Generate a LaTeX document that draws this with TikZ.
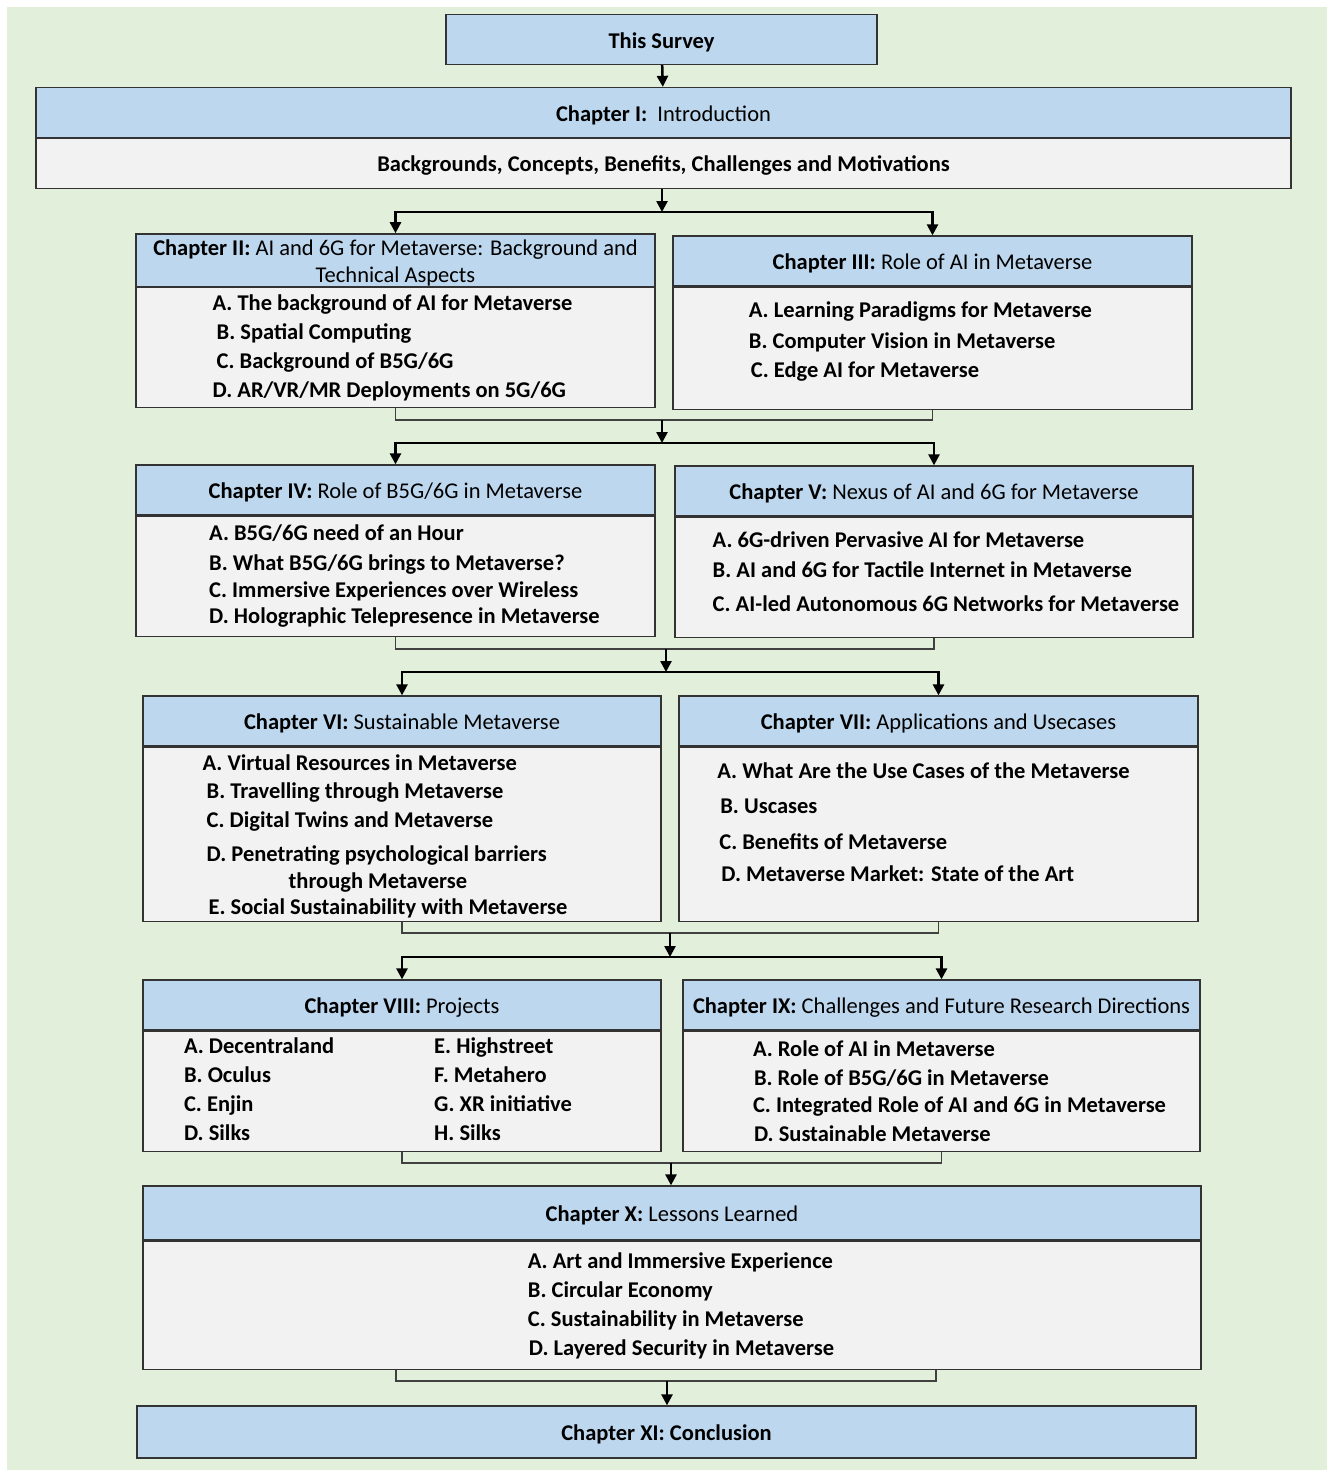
\documentclass[tikz,border=0pt]{standalone}
\usepackage{fontspec}
\setmainfont{Carlito}
\usepackage{tikz}
\usetikzlibrary{positioning,arrows.meta}

\definecolor{headblue}{RGB}{189,215,238}
\definecolor{bodygray}{RGB}{242,242,242}
\definecolor{bggreen}{RGB}{226,239,218}

\begin{document}
\begin{tikzpicture}[
        x=1pt, y=-1pt,
        head/.style={rectangle, draw=black!80, line width=1.3pt, fill=headblue, inner sep=0pt, minimum height=50pt, text height=21.3pt, text depth=4pt, align=center, font=\fontsize{22.5}{27}\selectfont},
        body/.style={rectangle, draw=black!80, line width=1.3pt, fill=bodygray, inner sep=0pt, align=center, font=\fontsize{22.5}{29}\selectfont\bfseries},
        items/.style={inner sep=0pt, align=left, font=\fontsize{22.5}{29}\selectfont\bfseries},
        arrow/.style={-{Triangle[length=11pt,width=11pt]}, line width=2.5pt},
        link/.style={draw=black!75, line width=1.4pt}
    ]

    \useasboundingbox (0,0) rectangle (1327,1470);
    \fill[bggreen] (7,7) rectangle (1327,1470);

    % Survey and introduction
    \node[head, minimum width=431pt, font=\fontsize{22.5}{27}\selectfont\bfseries] (survey) at (661.5,39.5) {This Survey};
    \node[head, minimum width=1255pt] (introhead) at (663.5,112.5) {\textbf{Chapter I:}~ Introduction};
    \node[body, minimum width=1255pt, minimum height=50pt, text height=20pt, text depth=4pt, below=0pt of introhead] (introbody) {Backgrounds, Concepts, Benefits, Challenges and Motivations};

    % Chapters II and III
    \node[head, minimum width=519pt, minimum height=52pt, text height=48.3pt] (ch2head) at (395.5,260) {\textbf{Chapter II:} AI and 6G for Metaverse: Background and\\Technical Aspects};
    \node[body, minimum width=519pt, minimum height=120pt, below=0pt of ch2head] (ch2body) {};
    \node[items] (ch2items) at ([xshift=-3pt]ch2body.center) {A. The background of AI for Metaverse\\\hspace*{4pt}B. Spatial Computing\\\hspace*{4pt}C. Background of B5G/6G\\D. AR/VR/MR Deployments on 5G/6G};

    \node[head, minimum width=519pt] (ch3head) at (932.5,261) {\textbf{Chapter III:} Role of AI in Metaverse};
    \node[body, minimum width=519pt, minimum height=122pt, below=0pt of ch3head] (ch3body) {};
    \node[items] (ch3items) at ([xshift=-12pt, yshift=7pt]ch3body.center) {A. Learning Paradigms for Metaverse\\[2pt]B. Computer Vision in Metaverse\\[0pt]\hspace*{2pt}C. Edge AI for Metaverse};

    % Chapters IV and V
    \node[head, minimum width=519pt] (ch4head) at (395.5,490) {\textbf{Chapter IV:} Role of B5G/6G in Metaverse};
    \node[body, minimum width=519pt, minimum height=120pt, below=0pt of ch4head] (ch4body) {};
    \node[items] (ch4items) at ([xshift=9pt]ch4body.center) {A. B5G/6G need of an Hour\\[1pt]B. What B5G/6G brings to Metaverse?\\[-2pt]C. Immersive Experiences over Wireless\\[-3pt]D. Holographic Telepresence in Metaverse};

    \node[head, minimum width=518pt] (ch5head) at (934,491) {\textbf{Chapter V:} Nexus of AI and 6G for Metaverse};
    \node[body, minimum width=518pt, minimum height=120pt, below=0pt of ch5head] (ch5body) {};
    \node[items] (ch5items) at ([xshift=12pt, yshift=6pt]ch5body.center) {A. 6G-driven Pervasive AI for Metaverse\\[1pt]B. AI and 6G for Tactile Internet in Metaverse\\[5pt]C. AI-led Autonomous 6G Networks for Metaverse};

    % Chapters VI and VII
    \node[head, minimum width=518pt] (ch6head) at (402,721) {\textbf{Chapter VI:} Sustainable Metaverse};
    \node[body, minimum width=518pt, minimum height=174pt, below=0pt of ch6head] (ch6body) {};
    \node[items] (ch6items) at ([xshift=-17pt, yshift=-2pt]ch6body.center) {A. Virtual Resources in Metaverse\\[-1pt]\hspace*{4pt}B. Travelling through Metaverse\\[0pt]\hspace*{4pt}C. Digital Twins and Metaverse\\[5pt]\hspace*{4pt}D. Penetrating psychological barriers\\[-2pt]\hspace*{86pt}through Metaverse\\[-3pt]\hspace*{6pt}E. Social Sustainability with Metaverse};

    \node[head, minimum width=519pt] (ch7head) at (938.5,721) {\textbf{Chapter VII:} Applications and Usecases};
    \node[body, minimum width=519pt, minimum height=174pt, below=0pt of ch7head] (ch7body) {};
    \node[items] (ch7items) at ([xshift=-15pt, yshift=12pt]ch7body.center) {A. What Are the Use Cases of the Metaverse\\[6pt]\hspace*{3pt}B. Uscases\\[7pt]\hspace*{2pt}C. Benefits of Metaverse\\[3pt]\hspace*{4pt}D. Metaverse Market: State of the Art};

    % Chapters VIII and IX
    \node[head, minimum width=518pt] (ch8head) at (402,1005) {\textbf{Chapter VIII:} Projects};
    \node[body, minimum width=518pt, minimum height=120pt, below=0pt of ch8head] (ch8body) {};
    \node[items] (ch8items) at ([xshift=-24pt]ch8body.center) {\begin{tabular}{@{}l@{\hspace{100pt}}l@{}}
        A. Decentraland & E. Highstreet\\
        B. Oculus & F. Metahero\\
        C. Enjin & G. XR initiative\\
        D. Silks & H. Silks
    \end{tabular}};

    \node[head, minimum width=517pt] (ch9head) at (941.5,1005) {\textbf{Chapter IX:} Challenges and Future Research Directions};
    \node[body, minimum width=517pt, minimum height=120pt, below=0pt of ch9head] (ch9body) {};
    \node[items] (ch9items) at ([xshift=18pt]ch9body.center) {A. Role of AI in Metaverse\\\hspace*{1pt}B. Role of B5G/6G in Metaverse\\[-2pt]C. Integrated Role of AI and 6G in Metaverse\\\hspace*{1pt}D. Sustainable Metaverse};

    % Chapters X and XI
    \node[head, minimum width=1058pt, minimum height=54pt] (ch10head) at (672,1213) {\textbf{Chapter X:} Lessons Learned};
    \node[body, minimum width=1058pt, minimum height=128pt, below=0pt of ch10head] (ch10body) {};
    \node[items] (ch10items) at ([xshift=9pt, yshift=-1pt]ch10body.center) {A. Art and Immersive Experience\\B. Circular Economy\\C. Sustainability in Metaverse\\\hspace*{1pt}D. Layered Security in Metaverse};

    \node[head, minimum width=1059pt, minimum height=52pt, font=\fontsize{22.5}{27}\selectfont\bfseries] (ch11) at (666.5,1432) {Chapter XI: Conclusion};

    % Junctions
    \coordinate (k1) at (662,212);
    \coordinate (j2) at (662,420);
    \coordinate (k2) at (662,443);
    \coordinate (j3) at (666,649);
    \coordinate (k3) at (666,672);
    \coordinate (j4) at (670,933);
    \coordinate (k4) at (670,957);
    \coordinate (j5) at (671,1163);
    \coordinate (j6) at (667,1381);

    % Connectors
    \draw[arrow] (survey) -- (introhead);
    \draw[arrow] (introbody.south -| k1) -- (k1);
    \draw[arrow] (k1) -| (ch2head.north);
    \draw[arrow] (k1) -| (ch3head.north);

    \draw[link] (ch2body.south) |- (j2) -| (ch3body.south);
    \draw[arrow] (j2) -- (k2);
    \draw[arrow] (k2) -| (ch4head.north);
    \draw[arrow] (k2) -| (ch5head.north);

    \draw[link] (ch4body.south) |- (j3) -| (ch5body.south);
    \draw[arrow] (j3) -- (k3);
    \draw[arrow] (k3) -| (ch6head.north);
    \draw[arrow] (k3) -| (ch7head.north);

    \draw[link] (ch6body.south) |- (j4) -| (ch7body.south);
    \draw[arrow] (j4) -- (k4);
    \draw[arrow] (k4) -| (ch8head.north);
    \draw[arrow] (k4) -| (ch9head.north);

    \draw[link] (ch8body.south) |- (j5) -| (ch9body.south);
    \draw[arrow] (j5) -- (j5 |- ch10head.north);

    \draw[link] ([xshift=-276pt]ch10body.south) |- (j6) -| ([xshift=264pt]ch10body.south);
    \draw[arrow] (j6) -- (j6 |- ch11.north);

\end{tikzpicture}
\end{document}
